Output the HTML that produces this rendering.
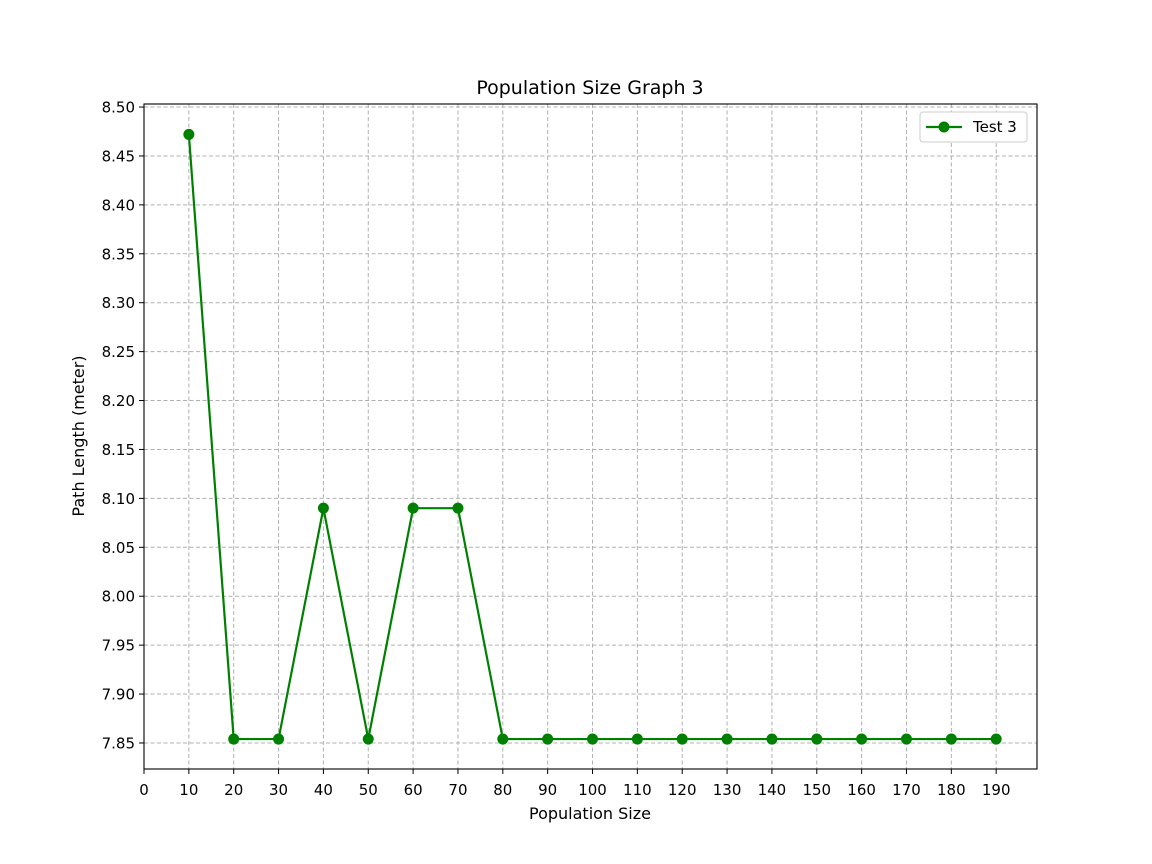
<!DOCTYPE html>
<html><head><meta charset="utf-8"><style>
html,body{margin:0;padding:0;background:#fff;}
svg{display:block;font-family:"DejaVu Sans","Liberation Sans",sans-serif;}
</style></head><body>
<svg id="chart" width="1152" height="864">
<rect width="1152" height="864" fill="#fff"/>
<g id="grid"></g>
<g id="axes"></g>
<g id="series"></g>
<rect x="144" y="104" width="893" height="665" fill="none" stroke="#000" stroke-width="1.1"/>
<text x="590" y="94" font-size="19" text-anchor="middle">Population Size Graph 3</text>
<text x="590" y="819" font-size="16" text-anchor="middle">Population Size</text>
<text x="0" y="0" font-size="16" text-anchor="middle" transform="translate(84,436) rotate(-90)">Path Length (meter)</text>
<g>
<rect x="920" y="112" width="107" height="30" rx="3" fill="#fff" stroke="#ccc"/>
<line x1="926" y1="127" x2="962" y2="127" stroke="green" stroke-width="2.2"/>
<circle cx="944" cy="127" r="5.5" fill="green"/>
<text x="973" y="132" font-size="15">Test 3</text>
</g>
</svg>
<script>
const xValues=[10,20,30,40,50,60,70,80,90,100,110,120,130,140,150,160,170,180,190];
const yValues=[8.472,7.854,7.854,8.09,7.854,8.09,8.09,7.854,7.854,7.854,7.854,7.854,7.854,7.854,7.854,7.854,7.854,7.854,7.854];
const xTicks=[0,10,20,30,40,50,60,70,80,90,100,110,120,130,140,150,160,170,180,190];
const yTicks=[7.85,7.90,7.95,8.00,8.05,8.10,8.15,8.20,8.25,8.30,8.35,8.40,8.45,8.50];
const NS="http://www.w3.org/2000/svg";
const X0=144,X1=1037,Y0=769,Y1=104,xmin=0,xmax=199.1,ymin=7.8234,ymax=8.5031;
function sx(v){return X0+(v-xmin)/(xmax-xmin)*(X1-X0);}
function sy(v){return Y0-(v-ymin)/(ymax-ymin)*(Y0-Y1);}
function mk(t,a,p){const e=document.createElementNS(NS,t);for(const k in a)e.setAttribute(k,a[k]);p.appendChild(e);return e;}
const grid=document.getElementById('grid'),axes=document.getElementById('axes'),ser=document.getElementById('series');
xTicks.forEach(v=>{const x=sx(v);
const g=mk('line',{x1:x,x2:x,y1:Y1,y2:Y0,stroke:'#b0b0b0','stroke-dasharray':'4,2.5','stroke-width':1},grid);


const t=mk('line',{x1:x,x2:x,y1:Y0,y2:Y0+5,stroke:'#000'},axes);


const l=mk('text',{x:x,y:Y0+26,'font-size':15,'text-anchor':'middle'},axes);l.textContent=v;

});
yTicks.forEach(v=>{const y=sy(v);
const g=mk('line',{x1:X0,x2:X1,y1:y,y2:y,stroke:'#b0b0b0','stroke-dasharray':'4,2.5','stroke-width':1},grid);


const t=mk('line',{x1:X0-5,x2:X0,y1:y,y2:y,stroke:'#000'},axes);


const l=mk('text',{x:X0-9,y:y+5.5,'font-size':15,'text-anchor':'end'},axes);l.textContent=v.toFixed(2);

});
const pl=mk('polyline',{points:xValues.map((v,i)=>sx(v)+','+sy(yValues[i])).join(' '),fill:'none',stroke:'green','stroke-width':2.2},ser);


xValues.forEach((v,i)=>{const c=mk('circle',{cx:sx(v),cy:sy(yValues[i]),r:5.5,fill:'green'},ser);

});
</script>
</body></html>
